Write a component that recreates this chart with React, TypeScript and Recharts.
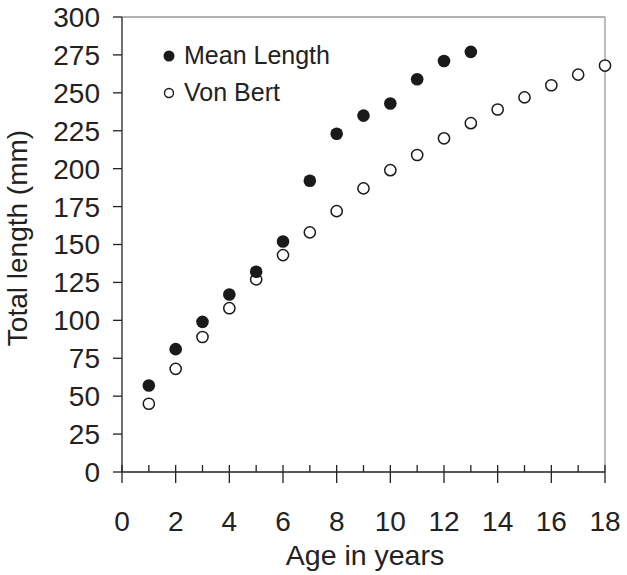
import React from 'react';
import { ScatterChart, Scatter, XAxis, YAxis, ReferenceLine } from 'recharts';

const ages = [1, 2, 3, 4, 5, 6, 7, 8, 9, 10, 11, 12, 13, 14, 15, 16, 17, 18];
const meanLength = [57, 81, 99, 117, 132, 152, 192, 223, 235, 243, 259, 271, 277];
const vonBert = [45, 68, 89, 108, 127, 143, 158, 172, 187, 199, 209, 220, 230, 239, 247, 255, 262, 268];
const xTicks = [0, 1, 2, 3, 4, 5, 6, 7, 8, 9, 10, 11, 12, 13, 14, 15, 16, 17, 18];
const yTicks = [0, 25, 50, 75, 100, 125, 150, 175, 200, 225, 250, 275, 300];

const FONT = "Arial, 'Liberation Sans', sans-serif";
const INK = '#222';

const meanData = meanLength.map((v, i) => ({ age: ages[i], len: v }));
const vonData = vonBert.map((v, i) => ({ age: ages[i], len: v }));

// major ticks cross the axis, minor ones only poke up into the plot
const XTick = (props: any) => {
  const { x, y, payload } = props;
  const v = payload.value;
  const major = v % 2 === 0;
  return (
    <g>
      <line x1={x} x2={x} y1={y - 7} y2={major ? y + 11 : y} stroke={INK} strokeWidth={1.3} />
      {major && (
        <text x={x} y={y + 59} textAnchor="middle" fontSize={28} fontFamily={FONT} fill={INK}>
          {v}
        </text>
      )}
    </g>
  );
};

const xTitle = () => (
  <text x={365} y={565} textAnchor="middle" fontSize={28.5} fontFamily={FONT} fill={INK}>
    Age in years
  </text>
);

const yTitle = () => (
  <text transform="translate(27, 238) rotate(-90)" textAnchor="middle" fontSize={28} fontFamily={FONT} fill={INK}>
    Total length (mm)
  </text>
);

const LegendBox = () => (
  <div
    style={{
      position: 'absolute',
      left: 161,
      top: 37,
      fontFamily: FONT,
      fontSize: 25,
      color: INK,
      lineHeight: '37px',
    }}
  >
    <div style={{ display: 'flex', alignItems: 'center' }}>
      <svg width={16} height={16} style={{ marginRight: 7 }}>
        <circle cx={8} cy={8} r={5.5} fill="#1a1a1a" />
      </svg>
      Mean Length
    </div>
    <div style={{ display: 'flex', alignItems: 'center' }}>
      <svg width={16} height={16} style={{ marginRight: 7 }}>
        <circle cx={8} cy={8} r={4.5} fill="#fff" stroke="#1a1a1a" strokeWidth={1.4} />
      </svg>
      Von Bert
    </div>
  </div>
);

export default function App() {
  return (
    <div style={{ position: 'absolute', left: 0, top: 0, width: 627, height: 575, background: '#fff' }}>
      <ScatterChart width={627} height={575} margin={{ top: 17, right: 22, bottom: 0, left: 0 }}>
        <XAxis
          type="number"
          dataKey="age"
          domain={[0, 18]}
          ticks={xTicks}
          interval={0}
          height={103}
          tickLine={false}
          tickSize={0}
          tickMargin={0}
          axisLine={{ stroke: INK, strokeWidth: 1.3 }}
          tick={<XTick />}
          label={xTitle}
        />
        <YAxis
          type="number"
          dataKey="len"
          domain={[0, 300]}
          ticks={yTicks}
          interval={0}
          width={122}
          tickSize={9}
          tickMargin={13}
          tickLine={{ stroke: INK, strokeWidth: 1.3 }}
          axisLine={{ stroke: INK, strokeWidth: 1.3 }}
          tick={{ fontSize: 28, fontFamily: FONT, fill: INK }}
          label={yTitle}
        />
        <ReferenceLine y={300} stroke="#999" strokeWidth={1.3} />
        <ReferenceLine x={18} stroke="#999" strokeWidth={1.3} />
        <Scatter
          name="Von Bert"
          data={vonData}
          isAnimationActive={false}
          shape={(p: any) => <circle cx={p.cx} cy={p.cy} r={5.6} fill="#fff" stroke="#1a1a1a" strokeWidth={1.5} />}
        />
        <Scatter
          name="Mean Length"
          data={meanData}
          isAnimationActive={false}
          shape={(p: any) => <circle cx={p.cx} cy={p.cy} r={6.3} fill="#1a1a1a" />}
        />
      </ScatterChart>
      <LegendBox />
    </div>
  );
}
